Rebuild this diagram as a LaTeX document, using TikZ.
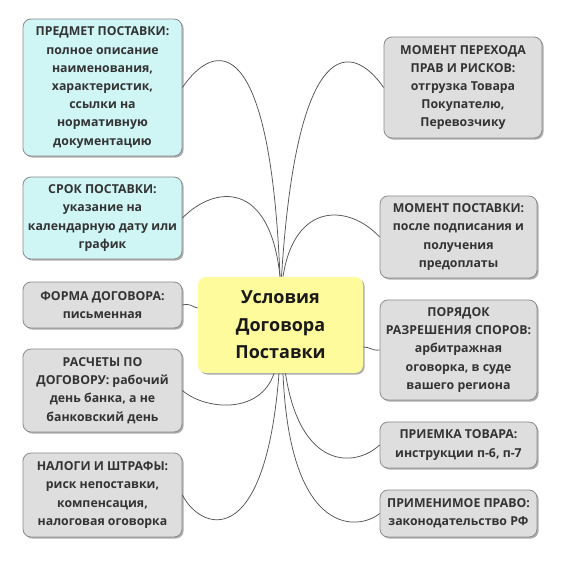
\documentclass[tikz,border=0pt]{standalone}
\usepackage{fontspec}
\setmainfont{Open Sans}
\usetikzlibrary{shadows,calc}
\definecolor{boxcyan}{HTML}{CFF5F5}
\definecolor{boxgray}{HTML}{DEDEDE}
\definecolor{boxyellow}{HTML}{FDFB9C}
\definecolor{boxline}{HTML}{8C8C8C}
\definecolor{boxtext}{HTML}{333333}
\definecolor{linkcol}{HTML}{555555}
\tikzset{
  topic/.style={draw=boxline, line width=0.8pt, rounded corners=8pt, align=center,
    inner sep=0pt, text=boxtext,
    font=\fontsize{12.3}{18.2}\selectfont\bfseries,
    drop shadow={shadow xshift=1.6pt, shadow yshift=-1.6pt, opacity=0.45, fill=black!70}},
  cyanbox/.style={topic, fill=boxcyan},
  graybox/.style={topic, fill=boxgray},
  centerbox/.style={topic, fill=boxyellow, draw=none, text=black!90,
    font=\fontsize{18}{27.5}\selectfont\bfseries},
  link/.style={draw=linkcol, line width=0.75pt}
}
\begin{document}
\begin{tikzpicture}[x=1pt,y=-1pt]
\useasboundingbox (0,0) rectangle (563,561);
\fill[white] (0,0) rectangle (563,561);
% central
\node[centerbox, minimum width=165, minimum height=96] (c) at (280.5,325)
  {Условия\\Договора\\Поставки};
% left
\node[cyanbox, minimum width=159, minimum height=137] (p1) at (102.5,87.5)
  {ПРЕДМЕТ ПОСТАВКИ:\\полное описание\\наименования,\\характеристик,\\ссылки на\\нормативную\\документацию};
\node[cyanbox, minimum width=159, minimum height=82] (p2) at (102.5,218)
  {СРОК ПОСТАВКИ:\\указание на\\календарную дату или\\график};
\node[graybox, minimum width=159, minimum height=46] (p3) at (102.5,305)
  {ФОРМА ДОГОВОРА:\\письменная};
\node[graybox, minimum width=159, minimum height=83] (p4) at (102.5,390.5)
  {РАСЧЕТЫ ПО\\ДОГОВОРУ: рабочий\\день банка, а не\\банковский день};
\node[graybox, minimum width=159, minimum height=84] (p5) at (102.5,495)
  {НАЛОГИ И ШТРАФЫ:\\риск непоставки,\\компенсация,\\налоговая оговорка};
% right
\node[graybox, minimum width=158, minimum height=101] (r1) at (463,87.5)
  {МОМЕНТ ПЕРЕХОДА\\ПРАВ И РИСКОВ:\\отгрузка Товара\\Покупателю,\\Перевозчику};
\node[graybox, minimum width=157, minimum height=82] (r2) at (458.5,237)
  {МОМЕНТ ПОСТАВКИ:\\после подписания и\\получения\\предоплаты};
\node[graybox, minimum width=157, minimum height=100] (r3) at (458.5,350)
  {ПОРЯДОК\\РАЗРЕШЕНИЯ СПОРОВ:\\арбитражная\\оговорка, в суде\\вашего региона};
\node[graybox, minimum width=157, minimum height=46] (r4) at (458.5,445)
  {ПРИЕМКА ТОВАРА:\\инструкции п-6, п-7};
\node[graybox, minimum width=157, minimum height=47] (r5) at (458.5,513.5)
  {ПРИМЕНИМОЕ ПРАВО:\\законодательство РФ};
% connectors
\draw[link] (p1.east) .. controls (215,40) and (270,30) .. ([xshift=-0.5pt]c.north);
\draw[link] (p2.east) .. controls (215,185) and (270,180) .. ([xshift=-0.5pt]c.north);
\draw[link] (r1.west) .. controls (352,42) and (297,32) .. ([xshift=1pt]c.north);
\draw[link] (r2.west) .. controls (350,205) and (295,200) .. ([xshift=2.5pt]c.north);
\draw[link] (p3.east) .. controls (191,303) and (192,307) .. ([yshift=17pt]c.west);
\draw[link] ([yshift=-22pt]c.east) .. controls (370,347) and (372,351) .. (r3.west);
\draw[link] (p4.east) .. controls (205,410) and (260,415) .. ([xshift=-6.5pt]c.south);
\draw[link] (p5.east) .. controls (200,530) and (265,555) .. ([xshift=-1.5pt]c.south);
\draw[link] (r4.west) .. controls (355,468) and (300,470) .. ([xshift=5pt]c.south);
\draw[link] (r5.west) .. controls (360,530) and (290,540) .. ([xshift=2.5pt]c.south);
\end{tikzpicture}
\end{document}
